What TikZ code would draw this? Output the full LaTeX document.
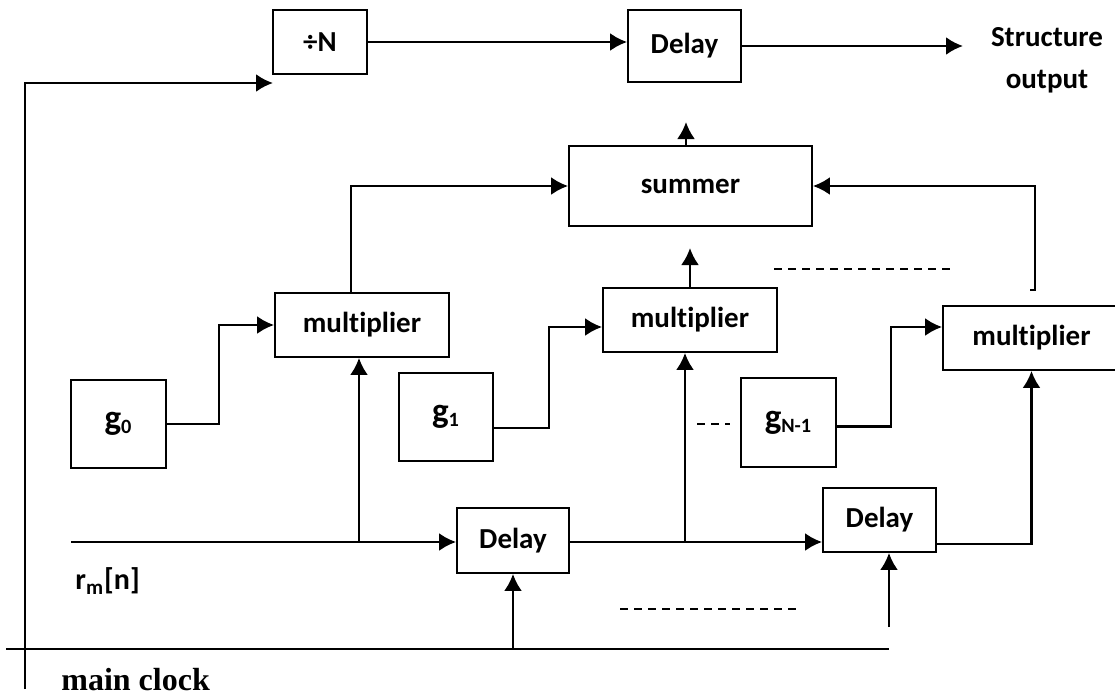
\documentclass[tikz,border=0pt]{standalone}
\usepackage{fontspec}
\setmainfont{Carlito}[Ligatures=NoCommon]
\newfontfamily\timesfont{Liberation Serif}
\usepackage{tikz}
\usetikzlibrary{arrows.meta,positioning,calc}
\tikzstyle{sigline} = [line width=1.3pt,-{Latex[length=8.5pt,width=9pt]}]
\tikzstyle{plainline} = [line width=1.3pt]
\tikzstyle{blockbox} = [rectangle, draw, line width=0.9pt, text centered, inner sep=0pt, font=\fontsize{14.5}{21}\selectfont\bfseries]
\tikzstyle{dotline} = [line width=0.9pt, dash pattern=on 4pt off 3pt]
\newcommand{\coefg}{{\fontsize{17.5}{21}\selectfont g}}

\begin{document}
\begin{tikzpicture}[x=0.5pt,y=-0.5pt]
\clip (0,0) rectangle (1115,697);

% Top row
\node[blockbox, minimum width=47pt, minimum height=32pt] (divn) at (320,42) {÷N};
\node[blockbox, minimum width=56.5pt, minimum height=36pt] (dtop) at (684.5,46) {Delay};
\node[font=\fontsize{14.5}{21}\selectfont\bfseries, align=center, inner sep=0pt] (outlbl) at (1047,60) {Structure\\output};
\coordinate (outtip) at (963,46);
\coordinate (divin) at (273,83);

% Summer and multipliers
\node[blockbox, minimum width=121.5pt, minimum height=40pt] (summer) at (690.5,186) {summer};
\node[blockbox, minimum width=87pt, minimum height=32pt] (mult1) at (362,325) {multiplier};
\node[blockbox, minimum width=87pt, minimum height=32pt] (mult2) at (690,320) {multiplier};
\node[blockbox, minimum width=88.5pt, minimum height=32pt] (mult3) at (1031.5,338) {multiplier};
\coordinate (sumtip) at (686,122);
\coordinate (m2tip) at (690,248);
\coordinate (hook) at (1030,290);

% Coefficients
\node[blockbox, minimum width=47.5pt, minimum height=44pt] (g0) at (118.5,424) {\coefg\textsubscript{0}};
\node[blockbox, minimum width=47pt, minimum height=44pt] (g1) at (446,417) {\coefg\textsubscript{1}};
\node[blockbox, minimum width=47.5pt, minimum height=44.5pt] (gN) at (788.5,422.5) {\coefg\textsubscript{N-1}};

% Delay line
\node[blockbox, minimum width=56pt, minimum height=32.5pt] (del1) at (513,540.5) {Delay};
\node[blockbox, minimum width=56.5pt, minimum height=32pt] (del2) at (879.5,520) {Delay};
\coordinate (rin) at (71,542);
\node[anchor=west, inner sep=0pt, font=\fontsize{15}{21}\selectfont\bfseries] (rmlbl) at (75,581) {r\textsubscript{m}[n]};

% Clock
\coordinate (clkL) at (6,649);
\coordinate (clkR) at (889,649);
\coordinate (clkbot) at (25,689);
\coordinate (d2clk) at (889,627);
\node[anchor=west, inner sep=0pt, font=\fontsize{16}{19}\selectfont\timesfont\bfseries] (clklbl) at (61,680) {main clock};

% Connections
\draw[sigline] (clkbot) |- (divin);
\draw[sigline] (divn.east) -- (divn.east -| dtop.west);
\draw[sigline] (dtop.east) -- (outtip);
\draw[sigline] (summer.north -| sumtip) -- (sumtip);
\draw[sigline] ([xshift=-5.5pt]mult1.north) |- (summer.west);
\draw[sigline] (mult2.north) -- (m2tip);
\draw[sigline] (hook) -- ++(5,0) |- (summer.east);
\draw[sigline] (g0.east) -- ++(52,0) |- (mult1.west);
\draw[sigline] ([yshift=-5.5pt]g1.east) -- ++(55,0) |- ([yshift=-3.5pt]mult2.west);
\draw[sigline] ([yshift=-2pt]gN.east) -- ++(54,0) |- ([yshift=5.5pt]mult3.west);
\draw[sigline] (rin) -- (rin -| del1.west);
\draw[sigline] ([xshift=-1.5pt]mult1.south |- rin) -- ([xshift=-1.5pt]mult1.south);
\draw[sigline] (del1.east |- rin) -- (rin -| del2.west);
\draw[sigline] ([xshift=-2.5pt]mult2.south |- rin) -- ([xshift=-2.5pt]mult2.south);
\draw[sigline] ([yshift=-12pt]del2.east) -| (mult3.south);
\draw[plainline] (clkL) -- (clkR);
\draw[sigline] (del1.south |- clkL) -- (del1.south);
\draw[sigline] (d2clk) -- (d2clk |- del2.south);

% Dots between stages
\draw[dotline] (774,269) -- (950,269);
\draw[dotline] (697,424) -- (730,424);
\draw[dotline] (620,609) -- (797,609);
\end{tikzpicture}
\end{document}
